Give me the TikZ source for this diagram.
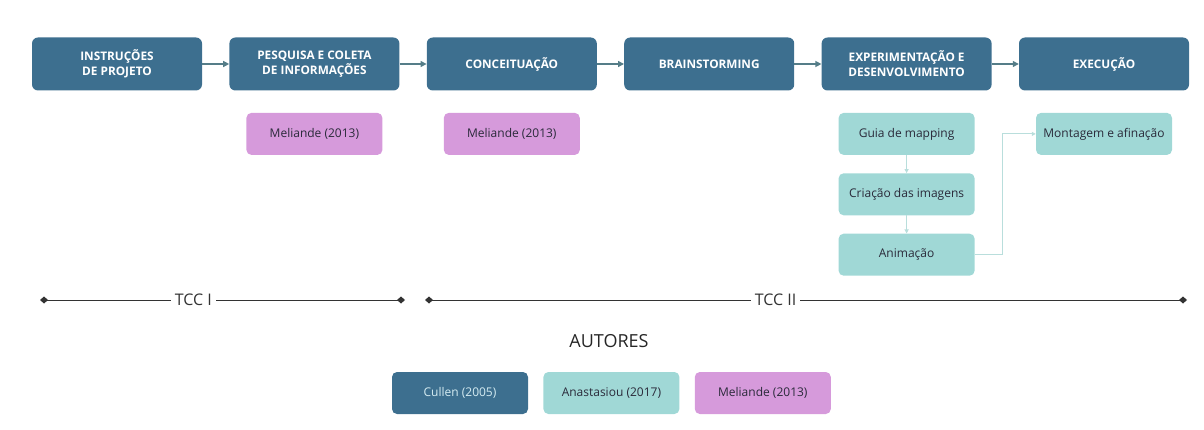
\documentclass[tikz,border=0pt]{standalone}
\usepackage{fontspec}
\setmainfont{Open Sans}
\usepackage{xcolor}
\usetikzlibrary{arrows.meta,positioning}

\definecolor{stageblue}{HTML}{3D6F8F}
\definecolor{anateal}{HTML}{A0D8D6}
\definecolor{melpink}{HTML}{D69ADB}
\definecolor{flowgray}{HTML}{557D88}
\definecolor{lighttip}{HTML}{B9DEDC}
\definecolor{inkdark}{HTML}{2A2A3A}
\definecolor{cultext}{HTML}{D5ECF2}

\begin{document}
\begin{tikzpicture}[
  x=1pt, y=-1pt,
  node distance=22pt and 27pt,
  stage/.style={fill=stageblue, rounded corners=6pt, align=center, minimum height=53pt, minimum width=170pt, text=white, font=\bfseries\fontsize{11.8}{15}\selectfont},
  ref/.style={rounded corners=5pt, align=center, minimum height=42pt, minimum width=136pt, text=inkdark, font=\fontsize{12}{14}\selectfont},
  mel/.style={ref, fill=melpink},
  ana/.style={ref, fill=anateal},
  cul/.style={ref, fill=stageblue, text=cultext},
  arrow/.style={-{Triangle[length=6pt,width=6pt]}, flowgray, line width=1.3pt},
  softarrow/.style={-{Triangle[length=4pt,width=4pt]}, lighttip, line width=1pt},
  span/.style={{Diamond[length=8pt,width=7pt]}-{Diamond[length=8pt,width=7pt]}, black!80, line width=1pt},
  spanlabel/.style={fill=white, inner sep=4pt, text=black!80, font=\fontsize{16}{18}\selectfont}
]
\useasboundingbox (0,0) rectangle (1204,430);

% etapas
\node[stage] (instr) at (117,64) {INSTRUÇÕES\\DE PROJETO};
\node[stage, right=27pt of instr] (pesq) {PESQUISA E COLETA\\DE INFORMAÇÕES};
\node[stage, right=27pt of pesq] (conc) {CONCEITUAÇÃO};
\node[stage, right=27pt of conc] (brain) {BRAINSTORMING};
\node[stage, right=27pt of brain] (exper) {EXPERIMENTAÇÃO E\\DESENVOLVIMENTO};
\node[stage, right=27pt of exper] (exec) {EXECUÇÃO};

\draw[arrow] (instr) -- (pesq);
\draw[arrow] (pesq) -- (conc);
\draw[arrow] (conc) -- (brain);
\draw[arrow] (brain) -- (exper);
\draw[arrow] (exper) -- (exec);

% referencias
\node[mel, below=of pesq] (melA) {Meliande (2013)};
\node[mel, below=of conc] (melB) {Meliande (2013)};
\node[ana, below=of exper] (guia) {Guia de mapping};
\node[ana, below=18pt of guia] (criac) {Criação das imagens};
\node[ana, below=18pt of criac] (anim) {Animação};
\node[ana, below=of exec] (mont) {Montagem e afinação};

\draw[softarrow] (guia) -- (criac);
\draw[softarrow] (criac) -- (anim);
\draw[softarrow] (anim.east) -- ++(28pt,0) |- (mont.west);

% linha do tempo
\coordinate (tccIa) at (40,300);
\coordinate (tccIb) at (405,300);
\coordinate (tccIIa) at (425,300);
\coordinate (tccIIb) at (1187,300);
\draw[span] (tccIa) -- node[spanlabel, pos=0.42] (tccI) {TCC I} (tccIb);
\draw[span] (tccIIa) -- node[spanlabel, pos=0.46] (tccII) {TCC II} (tccIIb);

% legenda
\node[font=\fontsize{18}{21}\selectfont, text=black!85] (autores) at (609,341) {AUTORES};
\node[cul] (cullen) at (460,393) {Cullen (2005)};
\node[ana, right=15pt of cullen] (anast) {Anastasiou (2017)};
\node[mel, right=15pt of anast] (melleg) {Meliande (2013)};
\end{tikzpicture}
\end{document}
